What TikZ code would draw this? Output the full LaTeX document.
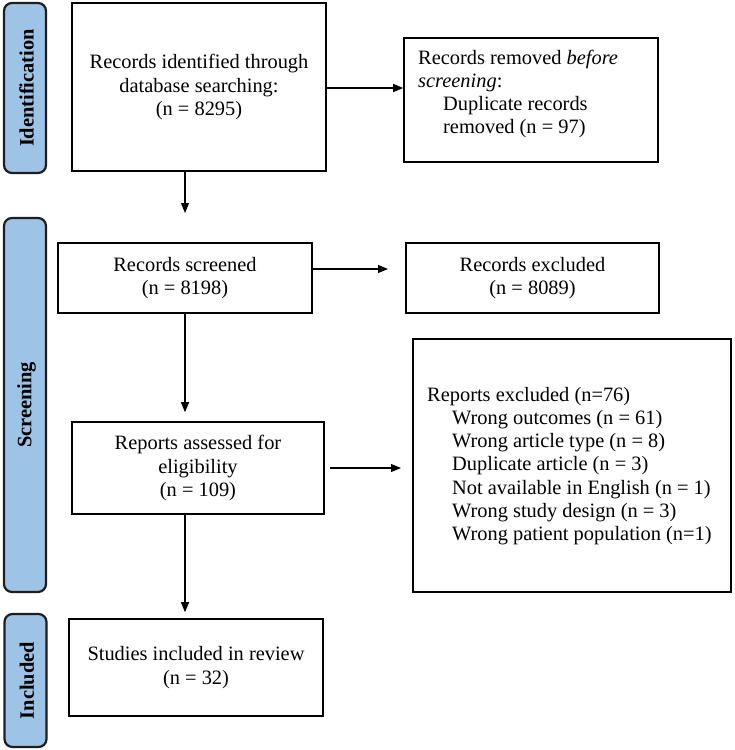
\documentclass[tikz,border=0pt]{standalone}
\usepackage{fontspec}
\setmainfont{Liberation Serif}
\usetikzlibrary{arrows.meta}
\definecolor{tabblue}{RGB}{157,195,230}
\definecolor{taborder}{RGB}{30,30,30}
\tikzset{
  txt/.style={font=\fontsize{20.4}{23.2}\selectfont},
  box/.style={draw=black, line width=1.6pt, rectangle, align=center, txt, inner sep=0pt},
  tab/.style={draw=taborder, fill=tabblue, line width=2.2pt, rounded corners=8pt, rectangle, inner sep=0pt},
  tabtxt/.style={rotate=90, font=\fontsize{20.4}{23}\selectfont\bfseries, inner sep=0pt},
  arr/.style={line width=1.1pt, -{Triangle[length=10pt,width=8pt]}},
  plaintxt/.style={txt, align=left, inner sep=0pt, anchor=west}
}
\begin{document}
\begin{tikzpicture}[x=1pt,y=-1pt]
\useasboundingbox (0,0) rectangle (734,750);
% phase tabs
\node[tab, minimum width=42pt, minimum height=170pt] (tabid) at (25,88) {};
\node[tabtxt] (tabidt) at ([xshift=1.5pt]tabid.center) {Identification};
\node[tab, minimum width=42pt, minimum height=374pt] (tabsc) at (25,405) {};
\node[tabtxt] (tabsct) at ([xshift=1.5pt]tabsc.center) {Screening};
\node[tab, minimum width=42pt, minimum height=133pt] (tabin) at (25.5,680.5) {};
\node[tabtxt] (tabint) at ([xshift=1.5pt]tabin.center) {Included};
% boxes
\node[box, minimum width=254pt, minimum height=168pt] (b1) at (199,87) {Records identified through\\database searching:\\(n = 8295)};
\node[box, minimum width=254pt, minimum height=124pt] (b2) at (531,100) {};
\node[plaintxt] (b2t) at (418,94) {Records removed \textit{before}\\\textit{screening}:\\\hspace*{25pt}Duplicate records\\\hspace*{25pt}removed (n = 97)};
\node[box, minimum width=254pt, minimum height=70pt] (b3) at (185,278) {Records screened\\(n = 8198)};
\node[box, minimum width=253pt, minimum height=70pt] (b3x) at (532.5,278) {Records excluded\\(n = 8089)};
\node[box, minimum width=252pt, minimum height=92pt] (b4) at (198,468) {Reports assessed for\\eligibility\\(n = 109)};
\node[box, minimum width=318pt, minimum height=253pt] (b5) at (572,465.5) {};
\node[plaintxt] (b5t) at (427,466) {Reports excluded (n=76)\\\hspace*{25pt}Wrong outcomes (n = 61)\\\hspace*{25pt}Wrong article type (n = 8)\\\hspace*{25pt}Duplicate article (n = 3)\\\hspace*{25pt}Not available in English (n = 1)\\\hspace*{25pt}Wrong study design (n = 3)\\\hspace*{25pt}Wrong patient population (n=1)};
\node[box, minimum width=254pt, minimum height=97pt] (b6) at (196,667.5) {Studies included in review\\(n = 32)};
% free ends
\coordinate (c1) at (185,213);
\coordinate (c2) at (388,269);
\coordinate (c4s) at (330,468);
\coordinate (c4e) at (401,468);
% connectors
\draw[arr] (b1.east |- 0,88) -- (b2.west |- 0,88);
\draw[arr] (c1 |- b1.south) -- (c1);
\draw[arr] (b3.east |- c2) -- (c2);
\draw[arr] (b3.south) -- ([yshift=9pt]b4.north -| b3.south);
\draw[arr] (c4s) -- (c4e);
\draw[arr] (b4.south -| b3.south) -- ([yshift=6pt]b6.north -| b3.south);
\end{tikzpicture}
\end{document}
